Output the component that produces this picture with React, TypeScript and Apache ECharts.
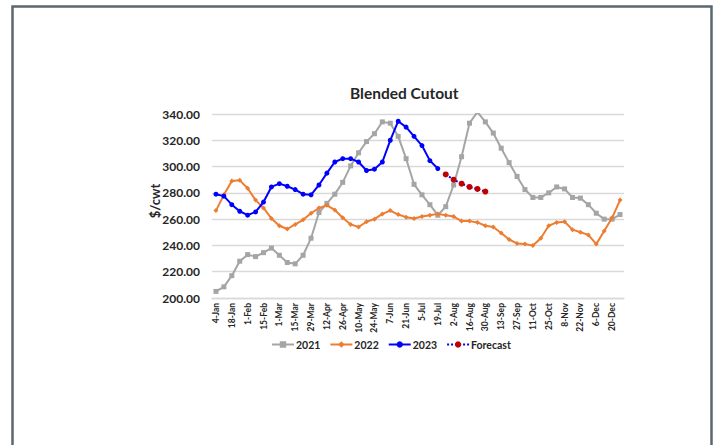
import React, { useEffect, useRef } from "react";
import * as echarts from "echarts";

// Weekly reporting dates (week beginning)
const weeks = [
  "4-Jan", "11-Jan", "18-Jan", "25-Jan", "1-Feb", "8-Feb", "15-Feb", "22-Feb",
  "1-Mar", "8-Mar", "15-Mar", "22-Mar", "29-Mar", "5-Apr", "12-Apr", "19-Apr",
  "26-Apr", "3-May", "10-May", "17-May", "24-May", "31-May", "7-Jun", "14-Jun",
  "21-Jun", "28-Jun", "5-Jul", "12-Jul", "19-Jul", "26-Jul", "2-Aug", "9-Aug",
  "16-Aug", "23-Aug", "30-Aug", "6-Sep", "13-Sep", "20-Sep", "27-Sep", "4-Oct",
  "11-Oct", "18-Oct", "25-Oct", "1-Nov", "8-Nov", "15-Nov", "22-Nov", "29-Nov",
  "6-Dec", "13-Dec", "20-Dec", "27-Dec",
];

// Blended cutout value, $/cwt
const cutout2021 = [
  205, 208.5, 217, 228, 233, 231.5, 234.5, 238, 232.5, 227, 226, 232.5, 245.5,
  265, 272, 279, 288, 300.5, 310.5, 319, 325, 334, 333, 323, 306, 286.5, 278.5,
  271, 263, 269.5, 286, 307.5, 333, 341.5, 334, 325.5, 314, 303, 292.5, 282.5,
  276.5, 276.5, 280, 284.5, 283, 276.5, 276, 271, 264.5, 260, 260, 263.5,
];

const cutout2022 = [
  266.5, 278.5, 289, 289.5, 283.5, 274.5, 268.5, 260.5, 255, 252.5, 256, 259.5,
  264.5, 268.5, 270.5, 267, 261, 256, 254, 258, 260, 264, 266.5, 263.5, 261.5,
  260.5, 262, 263, 264, 263, 262, 258.5, 258.5, 257.5, 255, 254, 249.5, 244.5,
  241.5, 241, 240, 245.5, 255, 257.5, 258, 252, 250, 248, 241, 251, 261, 274.5,
];

const cutout2023 = [
  279, 277.5, 271, 266, 263, 265.5, 273, 284.5, 287, 285, 282.5, 279, 278.5,
  286, 295, 303.5, 306, 306, 303.5, 297, 298, 303.5, 320, 334.5, 330, 323, 316,
  304.5, 298.5,
];

// Forecast weeks 26-Jul through 30-Aug
const forecastStart = 29;
const forecast = [294, 290, 287, 284.5, 283, 281];

const yTicks = { min: 200, max: 340, step: 20 };

const FONT = "Lato, 'Open Sans', sans-serif";
const TEXT = "#262626";

function padTo(values: number[], offset: number): (number | null)[] {
  const out: (number | null)[] = weeks.map(() => null);
  values.forEach((v, i) => {
    out[offset + i] = v;
  });
  return out;
}

export default function App() {
  const ref = useRef<HTMLDivElement>(null);

  useEffect(() => {
    if (!ref.current) return;
    const chart = echarts.init(ref.current, undefined, { renderer: "svg" });

    chart.setOption({
      animation: false,
      backgroundColor: "#ffffff",
      textStyle: { fontFamily: FONT },
      title: {
        text: "Blended Cutout",
        left: 345,
        top: 80,
        textStyle: { fontFamily: FONT, fontSize: 15.5, fontWeight: "bold", color: TEXT },
      },
      grid: { left: 212, right: 90, top: 114, bottom: 147, containLabel: false },
      legend: {
        left: 271,
        top: 339,
        padding: 0,
        itemWidth: 22,
        itemHeight: 8,
        itemGap: 9,
        textStyle: { fontFamily: FONT, fontSize: 10.5, fontWeight: "bold", color: TEXT, padding: [0, 0, 0, -3] },
        data: ["2021", "2022", "2023", "Forecast"],
      },
      xAxis: {
        type: "category",
        data: weeks,
        boundaryGap: true,
        axisLine: { show: true, lineStyle: { color: "#d9d9d9", width: 1.3 } },
        axisTick: { show: false },
        axisLabel: {
          interval: 1,
          rotate: 90,
          margin: 5,
          fontFamily: FONT,
          fontSize: 8.5,
          fontWeight: "bold",
          color: TEXT,
        },
      },
      yAxis: {
        type: "value",
        min: yTicks.min,
        max: yTicks.max,
        interval: yTicks.step,
        axisLine: { show: false },
        axisTick: { show: false },
        splitLine: { lineStyle: { color: "#d9d9d9", width: 1.3 } },
        axisLabel: {
          margin: 12,
          fontFamily: FONT,
          fontSize: 12,
          fontWeight: "bold",
          color: TEXT,
          formatter: (v: number) => v.toFixed(2),
        },
      },
      graphic: [
        {
          type: "rect",
          shape: { x: 12.5, y: 6.5, width: 699, height: 520 },
          style: { fill: "none", stroke: "#5b6770", lineWidth: 2.5 },
          silent: true,
        },
        {
          type: "text",
          x: 155,
          y: 201,
          rotation: Math.PI / 2,
          style: {
            text: "$/cwt",
            fontFamily: FONT,
            fontSize: 13,
            fontWeight: "bold",
            fill: TEXT,
            textAlign: "center",
            textVerticalAlign: "middle",
          },
        },
      ],
      series: [
        {
          name: "2021",
          type: "line",
          data: cutout2021,
          symbol: "rect",
          symbolSize: 5,
          showAllSymbol: true,
          lineStyle: { color: "#a5a5a5", width: 2 },
          itemStyle: { color: "#a5a5a5" },
          z: 2,
        },
        {
          name: "2022",
          type: "line",
          data: cutout2022,
          symbol: "diamond",
          symbolSize: 5,
          showAllSymbol: true,
          lineStyle: { color: "#ed7d31", width: 2 },
          itemStyle: { color: "#ed7d31" },
          z: 3,
        },
        {
          name: "2023",
          type: "line",
          data: padTo(cutout2023, 0),
          symbol: "circle",
          symbolSize: 5,
          showAllSymbol: true,
          lineStyle: { color: "#0000ff", width: 2 },
          itemStyle: { color: "#0000ff" },
          z: 4,
        },
        {
          name: "Forecast",
          type: "line",
          data: padTo(forecast, forecastStart),
          symbol: "circle",
          symbolSize: 6,
          showAllSymbol: true,
          lineStyle: { color: "#0000ff", width: 2, type: "dotted" },
          itemStyle: { color: "#c00000" },
          z: 5,
        },
      ],
    });

    return () => chart.dispose();
  }, []);

  return (
    <div
      ref={ref}
      style={{ position: "absolute", left: 0, top: 0, width: 714, height: 445 }}
    />
  );
}
